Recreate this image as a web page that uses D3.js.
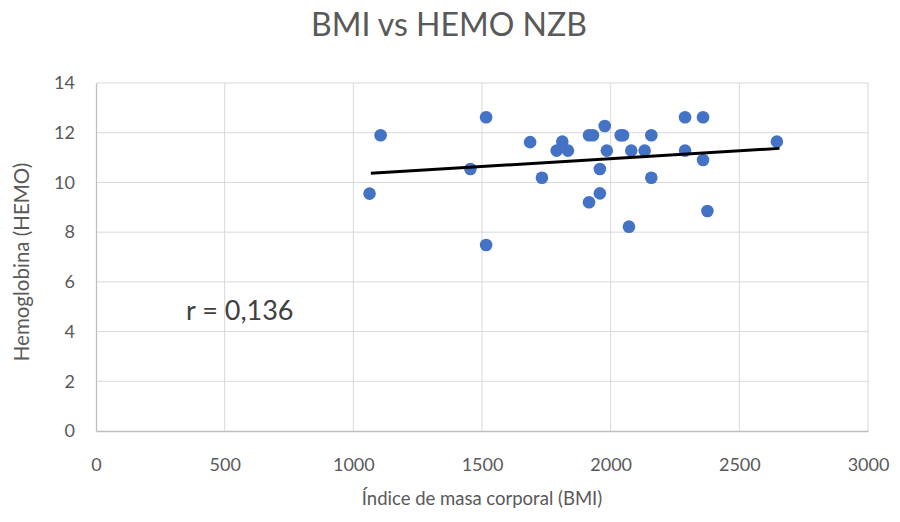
<!DOCTYPE html>
<html>
<head>
<meta charset="utf-8">
<script src="https://cdn.jsdelivr.net/npm/d3@7"></script>
<style>
  body { margin: 0; background: #fff; }
  text { font-family: Lato, "Open Sans", sans-serif; fill: #595959; }
</style>
</head>
<body>
<div id="chart"></div>
<script>
// BMI values (x) and hemoglobin values (y)
let bmi  = [1063, 1106, 1455, 1516, 1516, 1687, 1733, 1790, 1812, 1834,
            1916, 1931, 1916, 1958, 1958, 1977, 1985, 2039, 2048, 2071,
            2080, 2132, 2158, 2158, 2289, 2289, 2359, 2359, 2376, 2646];
let hemo = [9.55, 11.9, 10.54, 12.62, 7.48, 11.62, 10.19, 11.28, 11.64, 11.28,
            11.9, 11.9, 9.2, 10.54, 9.56, 12.27, 11.28, 11.9, 11.9, 8.22,
            11.28, 11.28, 11.9, 10.19, 12.62, 11.28, 12.62, 10.9, 8.85, 11.64];
let trendX = [1068, 2656];
let trendY = [10.37, 11.37];
let xTicks = [0, 500, 1000, 1500, 2000, 2500, 3000];
let yTicks = [0, 2, 4, 6, 8, 10, 12, 14];

let createView = function(){
    let svg = d3.select('#chart').append('svg')
        .attr('width', 900)
        .attr('height', 522);

    let x = d3.scaleLinear().domain([0, 3000]).range([96, 868]);
    let y = d3.scaleLinear().domain([0, 14]).range([431, 83]);

    // gridlines
    svg.append('g').selectAll('line.v')
        .data(xTicks.slice(1))
        .enter().append('line')
        .attr('x1', d => x(d)).attr('x2', d => x(d))
        .attr('y1', y(0)).attr('y2', y(14))
        .attr('stroke', '#d9d9d9').attr('stroke-width', 1);
    svg.append('g').selectAll('line.h')
        .data(yTicks.slice(1))
        .enter().append('line')
        .attr('x1', x(0)).attr('x2', x(3000))
        .attr('y1', d => y(d)).attr('y2', d => y(d))
        .attr('stroke', '#d9d9d9').attr('stroke-width', 1);

    // axes
    let xAxis = svg.append('g')
        .attr('transform', 'translate(0,' + y(0) + ')')
        .call(d3.axisBottom(x).tickValues(xTicks).tickFormat(d3.format('d')).tickSize(0).tickPadding(27));
    let yAxis = svg.append('g')
        .attr('transform', 'translate(' + x(0) + ',0)')
        .call(d3.axisLeft(y).tickValues(yTicks).tickFormat(d3.format('d')).tickSize(0).tickPadding(21));
    [xAxis, yAxis].forEach(a => {
        a.select('.domain').attr('stroke', '#bfbfbf').attr('stroke-width', 1.3);
        a.selectAll('text')
            .style('font-family', 'Lato, "Open Sans", sans-serif')
            .attr('font-size', 18).attr('fill', '#595959');
    });

    // points
    let points = bmi.map((b, i) => ({ x: b, y: hemo[i] }));
    svg.append('g').selectAll('circle')
        .data(points)
        .enter().append('circle')
        .attr('cx', d => x(d.x))
        .attr('cy', d => y(d.y))
        .attr('r', 6.3)
        .attr('fill', '#4472c4');

    // trend line
    svg.append('line')
        .attr('x1', x(trendX[0])).attr('y1', y(trendY[0]))
        .attr('x2', x(trendX[1])).attr('y2', y(trendY[1]))
        .attr('stroke', '#000').attr('stroke-width', 3);

    // titles
    svg.append('text')
        .attr('x', 449).attr('y', 36)
        .attr('text-anchor', 'middle')
        .attr('font-size', 32)
        .text('BMI vs HEMO NZB');
    svg.append('text')
        .attr('x', 482).attr('y', 505)
        .attr('text-anchor', 'middle')
        .attr('font-size', 18.5)
        .text('Índice de masa corporal (BMI)');
    svg.append('text')
        .attr('transform', 'translate(29,262) rotate(-90)')
        .attr('text-anchor', 'middle')
        .attr('font-size', 20.5)
        .text('Hemoglobina (HEMO)');
    svg.append('text')
        .attr('x', 186).attr('y', 320)
        .attr('font-size', 27)
        .style('fill', '#404040')
        .text('r = 0,136');
}

createView();
</script>
</body>
</html>
